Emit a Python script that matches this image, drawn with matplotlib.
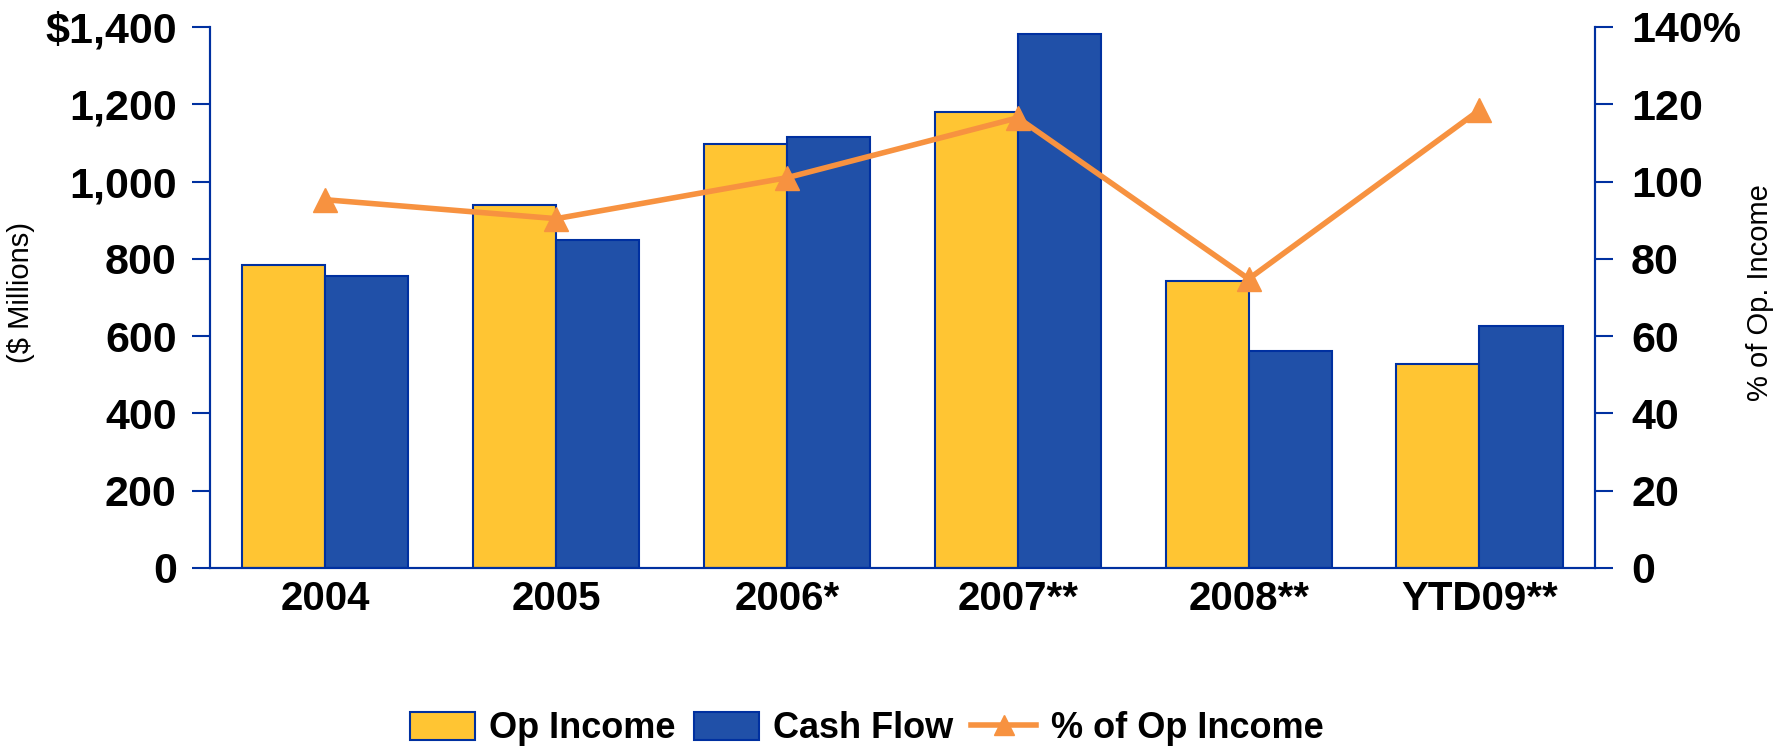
import numpy as np
import matplotlib.pyplot as plt
from matplotlib.lines import Line2D
from matplotlib.patches import Patch

# chart data
categories = ['2004', '2005', '2006*', '2007**', '2008**', 'YTD09**']
op_income = [783, 939, 1098, 1180, 743, 527]
cash_flow = [756, 848, 1116, 1383, 562, 626]
pct_of_op = [95.3, 90.4, 101, 116.5, 74.8, 118.5]

plt.rcParams['font.family'] = ['Liberation Sans', 'DejaVu Sans']

yellow = '#FFC533'
blue = '#2050A8'
edge = '#0030A0'
orange = '#F79240'

fig = plt.figure(figsize=(17.87, 7.5), dpi=100)
ax = fig.add_axes([0.1175, 0.2427, 0.775, 0.7213])

x = np.arange(len(categories))
w = 0.36
ax.bar(x - w / 2, op_income, w, color=yellow, edgecolor=edge, linewidth=1.5)
ax.bar(x + w / 2, cash_flow, w, color=blue, edgecolor=edge, linewidth=1.5)

ax.set_xlim(-0.5, len(categories) - 0.5)
ax.set_ylim(0, 1400)
ax.set_yticks(range(0, 1401, 200))
ax.set_yticklabels(['0', '200', '400', '600', '800', '1,000', '1,200', '$1,400'],
                   fontsize=31, fontweight='bold')
ax.set_xticks(x)
ax.set_xticklabels(categories, fontsize=29, fontweight='bold')
ax.tick_params(axis='x', length=0, pad=9)
ax.tick_params(axis='y', length=13, width=1.5, color=edge, pad=11)

ax2 = ax.twinx()
ax2.plot(x, pct_of_op, color=orange, linewidth=4, marker='^', markersize=17)
ax2.set_ylim(0, 140)
ax2.set_yticks(range(0, 141, 20))
ax2.set_yticklabels(['0', '20', '40', '60', '80', '100', '120', '140%'],
                    fontsize=31, fontweight='bold')
ax2.tick_params(axis='y', length=13, width=1.5, color=edge, pad=13)

# axis titles placed in figure coords so nothing gets clipped
fig.text(0.012, 0.61, '($ Millions)', rotation=90, fontsize=21, ha='center', va='center')
fig.text(0.985, 0.61, '% of Op. Income', rotation=90, fontsize=21, ha='center', va='center')

for a in (ax, ax2):
    a.spines['top'].set_visible(False)
    for s in ('left', 'right', 'bottom'):
        a.spines[s].set_color(edge)
        a.spines[s].set_linewidth(1.5)

handles = [
    Patch(facecolor=yellow, edgecolor=edge, linewidth=1.5, label='Op Income'),
    Patch(facecolor=blue, edgecolor=edge, linewidth=1.5, label='Cash Flow'),
    Line2D([0], [0], color=orange, linewidth=4, marker='^', markersize=15, label='% of Op Income'),
]
fig.legend(handles=handles, loc='center', bbox_to_anchor=(0.485, 0.028), ncol=3,
           frameon=False, prop={'size': 26, 'weight': 'bold'},
           handlelength=1.8, handleheight=0.8, columnspacing=0.5, handletextpad=0.4)

fig.savefig('out.png', dpi=100)
